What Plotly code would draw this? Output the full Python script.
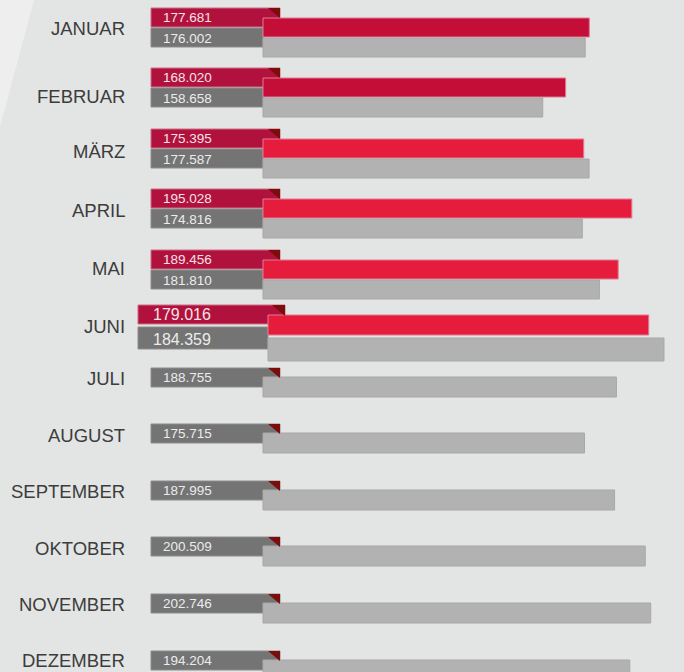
import plotly.graph_objects as go

# ---------------- data ----------------
months = ["JANUAR", "FEBRUAR", "MÄRZ", "APRIL", "MAI", "JUNI",
          "JULI", "AUGUST", "SEPTEMBER", "OKTOBER", "NOVEMBER", "DEZEMBER"]
current_year = [177681, 168020, 175395, 195028, 189456, 179016,
                None, None, None, None, None, None]
previous_year = [176002, 158658, 177587, 174816, 181810, 184359,
                 188755, 175715, 187995, 200509, 202746, 194204]
highlight_month = "JUNI"

# ---------------- layout constants ----------------
W, H = 684, 672
row_tops = [8, 68, 129, 189, 250, 305, 368, 424, 481, 537, 594, 651]
label_centers = [28, 96, 151, 210, 268, 326, 378, 435, 491, 548, 604, 660]
red_bar_colors = ["#c40e38", "#c40e38", "#e61c3c", "#e61c3c", "#e61c3c", "#e61c3c"]

C_BG = "#e3e4e4"
C_RED_BOX = "#b0123d"
C_DARK = "#7c0d0d"
C_GREY_BOX = "#747474"
C_GREY_BAR = "#b2b2b2"

AX = {
    "x": dict(x0=154, s=0.00245),     # normal rows: pixel of zero, px per unit
    "x2": dict(x0=138, s=0.002853),   # highlighted row (enlarged)
}


def px2x(ax, p):
    return (p - AX[ax]["x0"]) / AX[ax]["s"]


def fmt(v):
    return f"{v:,}".replace(",", ".")


fig = go.Figure()


def add_rect(ax, y0, y1, left_px, right_val, color, line_color, name=""):
    base = px2x(ax, left_px)
    fig.add_trace(go.Bar(
        orientation="h", y=[(y0 + y1) / 2], x=[right_val - base], base=[base],
        width=[y1 - y0], marker=dict(color=color, line=dict(color=line_color, width=1)),
        xaxis=ax, yaxis="y", showlegend=False, hoverinfo="skip", name=name))


annotations = []
shapes = [dict(type="path", xref="paper", yref="paper", layer="below",
               path=f"M 0 1 L {34 / W} 1 L 0 {1 - 127 / H} Z",
               fillcolor="#eeeeee", line=dict(width=0))]

for i, (m, cur, prev, T) in enumerate(zip(months, current_year, previous_year, row_tops)):
    hl = (m == highlight_month)
    ax = "x2" if hl else "x"
    if hl:
        left, red_right, grey_right, bar_base, txt_x, fs = 138, 285, 268, 268, 151, 16
        rb, gb, rbar, gbar = (0, 19), (22, 44), (10, 30), (33, 56)
        tri = (272, 285, 0, 11)
    else:
        left, red_right, grey_right, bar_base, txt_x, fs = 151, 280, 263, 263, 161, 13.5
        rb, gb, rbar, gbar = (0, 19), (20, 39), (10, 29), (30, 49)
        tri = (268, 280, 0, 10)

    if cur is not None:
        add_rect(ax, T + rb[0], T + rb[1], left, px2x(ax, red_right), C_RED_BOX, "#d06a84")
        add_rect(ax, T + gb[0], T + gb[1], left, px2x(ax, grey_right), C_GREY_BOX, "#8c8c8c")
        add_rect(ax, T + rbar[0], T + rbar[1], bar_base, cur, red_bar_colors[i], "#e07a92", "aktuell")
        add_rect(ax, T + gbar[0], T + gbar[1], bar_base, prev, C_GREY_BAR, "#a8a8a8", "Vorjahr")
        annotations.append(dict(x=txt_x / W, xref="paper", y=T + (rb[0] + rb[1]) / 2, yref="y",
                                text=fmt(cur), showarrow=False, xanchor="left",
                                font=dict(size=fs, color="#f7e1e7", family="Liberation Sans")))
        annotations.append(dict(x=txt_x / W, xref="paper", y=T + (gb[0] + gb[1]) / 2 + 1, yref="y",
                                text=fmt(prev), showarrow=False, xanchor="left",
                                font=dict(size=fs, color="#ececec", family="Liberation Sans")))
    else:
        add_rect(ax, T, T + 19, left, px2x(ax, red_right), C_GREY_BOX, "#8c8c8c")
        add_rect(ax, T + 9, T + 29, bar_base, prev, C_GREY_BAR, "#a8a8a8", "Vorjahr")
        annotations.append(dict(x=txt_x / W, xref="paper", y=T + 9.5, yref="y",
                                text=fmt(prev), showarrow=False, xanchor="left",
                                font=dict(size=fs, color="#ececec", family="Liberation Sans")))

    # folded corner triangle (right angle at top-right of the label box)
    tx0, tx1, ty0, ty1 = tri
    xa, xb = px2x(ax, tx0), px2x(ax, tx1)
    shapes.append(dict(type="path", xref=ax, yref="y", layer="above",
                       path=f"M {xa} {T + ty0} L {xb} {T + ty0} L {xb} {T + ty1} Z",
                       fillcolor=C_DARK, line=dict(width=0)))

    annotations.append(dict(x=127 / W, xref="paper", y=label_centers[i], yref="y", text=m,
                            showarrow=False, xanchor="right", yanchor="middle",
                            font=dict(size=18.5, color="#3c3c3c", family="Liberation Sans")))

fig.update_layout(
    width=W, height=H, autosize=False,
    margin=dict(l=0, r=0, t=0, b=0),
    paper_bgcolor=C_BG, plot_bgcolor=C_BG,
    barmode="overlay",
    showlegend=False,
    xaxis=dict(range=[px2x("x", 0), px2x("x", W)], visible=False, fixedrange=True),
    xaxis2=dict(range=[px2x("x2", 0), px2x("x2", W)], visible=False, fixedrange=True,
                overlaying="x"),
    yaxis=dict(range=[H, 0], visible=False, fixedrange=True),
    annotations=annotations,
    shapes=shapes,
)

fig.write_html(
    "out.html",
    config={"displayModeBar": False},
    post_script="document.body.style.margin='0';document.body.style.padding='0';"
                "document.body.style.background='" + C_BG + "';",
)
